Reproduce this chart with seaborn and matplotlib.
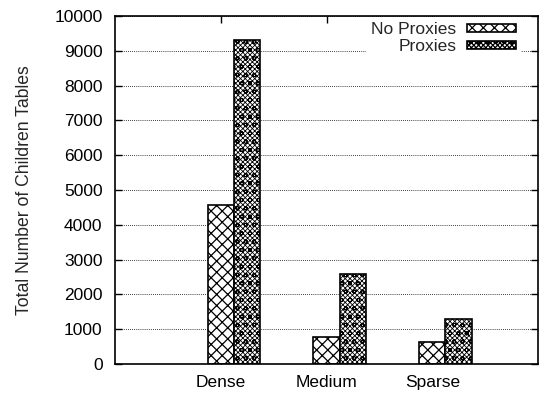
import matplotlib
matplotlib.use('Agg')
import matplotlib.pyplot as plt
from matplotlib.patches import Patch
import seaborn as sns
import pandas as pd

categories = ['Dense', 'Medium', 'Sparse']
series = ['No Proxies', 'Proxies']
no_proxies = [4580, 780, 640]
proxies = [9320, 2580, 1300]
yticks = list(range(0, 10001, 1000))
ylabel = 'Total Number of Children Tables'
hatches = ['xxx', 'x' * 7 + 'oo']
hatch_lws = [0.9, 0.6]

df = pd.DataFrame({
    'Density': categories * 2,
    'Series': [series[0]] * len(categories) + [series[1]] * len(categories),
    'Count': no_proxies + proxies,
})

sns.set_theme(style='white')
plt.rcParams['font.family'] = ['Liberation Sans', 'DejaVu Sans']
plt.rcParams['hatch.linewidth'] = 0.9
plt.rcParams['hatch.color'] = 'black'

fig = plt.figure(figsize=(5.4, 3.94), dpi=100)
ax = fig.add_axes([115 / 540, 30 / 394, 423 / 540, 348 / 394])

sns.barplot(data=df, x='Density', y='Count', hue='Series', hue_order=series,
            palette=['white', 'white'], saturation=1, edgecolor='black',
            linewidth=1.2, width=0.5, dodge=True, legend=False, ax=ax)


def style_patch(p, h, lw):
    p.set_hatch(h)
    if hasattr(p, 'set_hatch_linewidth'):
        p.set_hatch_linewidth(lw)


for cont, h, lw in zip(ax.containers, hatches, hatch_lws):
    for bar in cont:
        style_patch(bar, h, lw)
        bar.set_zorder(3)

ax.set_xlim(-1.125, 2.875)
ax.set_ylim(0, 10000)
ax.set_xticks([i - 0.125 for i in range(len(categories))])
ax.set_xticklabels(categories, fontsize=12.5)
ax.set_yticks(yticks)
ax.set_yticklabels([str(t) for t in yticks], fontsize=12.5)
ax.set_xlabel('')
ax.set_ylabel(ylabel, fontsize=12.7, labelpad=15)

ax.set_axisbelow(True)
ax.yaxis.grid(True, linestyle=(0, (1, 1.5)), color='black', linewidth=0.6)
ax.xaxis.grid(False)

for s in ax.spines.values():
    s.set_color('black')
    s.set_linewidth(1.2)
    s.set_visible(True)
    s.set_zorder(5)

ax.tick_params(axis='both', direction='in', top=True, right=True, bottom=True, left=True,
               length=5, width=1, color='black', labelcolor='black')
ax.tick_params(axis='y', pad=9)
ax.tick_params(axis='x', pad=8)

handles = []
for h, lw in zip(hatches, hatch_lws):
    p = Patch(facecolor='white', edgecolor='black', linewidth=1.2)
    style_patch(p, h, lw)
    handles.append(p)
leg = ax.legend(handles, series, loc='upper right',
                bbox_to_anchor=(1 - 12 / 423, 1 + 4 / 348),
                fontsize=12.5, frameon=True,
                framealpha=1, facecolor='white', edgecolor='none', fancybox=False,
                markerfirst=False, handlelength=2.8, handleheight=0.35,
                labelspacing=0.1, borderaxespad=0.3, handletextpad=0.6,
                borderpad=0.3)
leg.set_zorder(4)

fig.savefig('out.png', dpi=100)
